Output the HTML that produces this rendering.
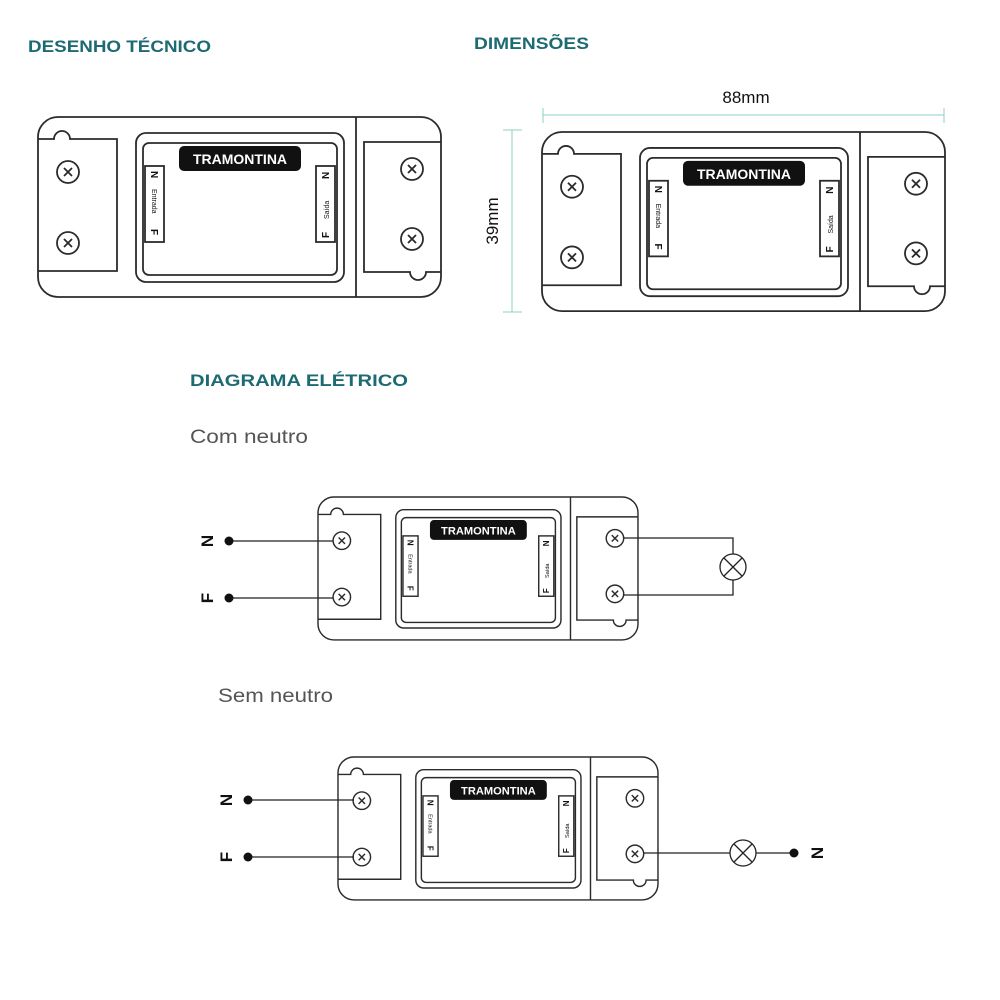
<!DOCTYPE html>
<html><head><meta charset="utf-8"><style>
html,body{margin:0;padding:0;background:#fff;}
svg{display:block}
.o{fill:none;stroke:#2b2b2b;stroke-width:1.8}
.h{font-family:"Liberation Sans",sans-serif;font-weight:bold;fill:#1e6a73;font-size:17px}
.s{font-family:"Liberation Sans",sans-serif;fill:#555;font-size:19px}
.lb{font-family:"Liberation Sans",sans-serif;font-weight:bold;fill:#fff;font-size:14px}
.sn{font-family:"Liberation Sans",sans-serif;font-weight:bold;fill:#111;font-size:10px}
.st{font-family:"Liberation Sans",sans-serif;fill:#111;font-size:7px}
.w{stroke:#222;stroke-width:1.3;fill:none}
.big{font-family:"Liberation Sans",sans-serif;fill:#111;font-size:17px}
</style></head><body>
<svg width="1000" height="1000" viewBox="0 0 1000 1000" xmlns="http://www.w3.org/2000/svg">
<rect width="1000" height="1000" fill="#fff"/>
<text class="h" x="28" y="52" textLength="183" lengthAdjust="spacingAndGlyphs">DESENHO TÉCNICO</text>
<text class="h" x="474" y="49" textLength="115" lengthAdjust="spacingAndGlyphs">DIMENSÕES</text>
<text class="h" x="190" y="386" textLength="218" lengthAdjust="spacingAndGlyphs">DIAGRAMA ELÉTRICO</text>
<text class="s" x="190" y="443" textLength="118" lengthAdjust="spacingAndGlyphs">Com neutro</text>
<text class="s" x="218" y="702" textLength="115" lengthAdjust="spacingAndGlyphs">Sem neutro</text>

<!-- dimensions -->
<g stroke="#8ccfc6" stroke-width="1" fill="none">
<line x1="543" y1="115" x2="944" y2="115"/><line x1="543" y1="108" x2="543" y2="123"/><line x1="944" y1="108" x2="944" y2="123"/>
<line x1="512" y1="130" x2="512" y2="312"/><line x1="503" y1="130" x2="522" y2="130"/><line x1="503" y1="312" x2="522" y2="312"/>
</g>
<text class="big" x="746" y="103" text-anchor="middle">88mm</text>
<text class="big" x="0" y="0" text-anchor="middle" transform="translate(498,221) rotate(-90)">39mm</text>

<!-- device 1 -->
<g transform="translate(38,117)">
<rect class="o" x="0" y="0" width="403" height="180" rx="20"/>
<line class="o" x1="318" y1="0" x2="318" y2="180"/>
<path class="o" d="M0,22 H16 a8,8 0 0 1 16,0 H79 V154 H0"/>
<path class="o" d="M403,25 H326 V155 H372 a8,8 0 0 0 16,0 H403"/>
<g class="o"><circle cx="30" cy="55" r="11"/><circle cx="30" cy="126" r="11"/><circle cx="374" cy="52" r="11"/><circle cx="374" cy="122" r="11"/>
<path d="M26,51 l8,8 M34,51 l-8,8 M26,122 l8,8 M34,122 l-8,8 M370,48 l8,8 M378,48 l-8,8 M370,118 l8,8 M378,118 l-8,8"/></g>
<rect class="o" x="98" y="16" width="208" height="149" rx="10"/>
<rect class="o" x="105" y="26" width="194" height="132" rx="6"/>
<rect x="141" y="29" width="122" height="25" rx="5" fill="#111"/>
<text class="lb" x="202" y="47" text-anchor="middle">TRAMONTINA</text>
<rect class="o" x="107" y="49" width="19" height="76"/><rect class="o" x="278" y="49" width="19" height="76"/>
<text class="sn" transform="translate(113,54) rotate(90)">N</text>
<text class="st" transform="translate(114,72) rotate(90)">Entrada</text>
<text class="sn" transform="translate(113,112) rotate(90)">F</text>
<text class="sn" transform="translate(291,62) rotate(-90)">N</text>
<text class="st" transform="translate(291,102) rotate(-90)">Saída</text>
<text class="sn" transform="translate(291,121) rotate(-90)">F</text>
</g>

<!-- device 2 -->
<g transform="translate(542,132) scale(1,0.995)">
<rect class="o" x="0" y="0" width="403" height="180" rx="20"/>
<line class="o" x1="318" y1="0" x2="318" y2="180"/>
<path class="o" d="M0,22 H16 a8,8 0 0 1 16,0 H79 V154 H0"/>
<path class="o" d="M403,25 H326 V155 H372 a8,8 0 0 0 16,0 H403"/>
<g class="o"><circle cx="30" cy="55" r="11"/><circle cx="30" cy="126" r="11"/><circle cx="374" cy="52" r="11"/><circle cx="374" cy="122" r="11"/>
<path d="M26,51 l8,8 M34,51 l-8,8 M26,122 l8,8 M34,122 l-8,8 M370,48 l8,8 M378,48 l-8,8 M370,118 l8,8 M378,118 l-8,8"/></g>
<rect class="o" x="98" y="16" width="208" height="149" rx="10"/>
<rect class="o" x="105" y="26" width="194" height="132" rx="6"/>
<rect x="141" y="29" width="122" height="25" rx="5" fill="#111"/>
<text class="lb" x="202" y="47" text-anchor="middle">TRAMONTINA</text>
<rect class="o" x="107" y="49" width="19" height="76"/><rect class="o" x="278" y="49" width="19" height="76"/>
<text class="sn" transform="translate(113,54) rotate(90)">N</text>
<text class="st" transform="translate(114,72) rotate(90)">Entrada</text>
<text class="sn" transform="translate(113,112) rotate(90)">F</text>
<text class="sn" transform="translate(291,62) rotate(-90)">N</text>
<text class="st" transform="translate(291,102) rotate(-90)">Saída</text>
<text class="sn" transform="translate(291,121) rotate(-90)">F</text>
</g>

<!-- device 3 -->
<g transform="translate(318,497) scale(0.794)">
<rect class="o" x="0" y="0" width="403" height="180" rx="20"/>
<line class="o" x1="318" y1="0" x2="318" y2="180"/>
<path class="o" d="M0,22 H16 a8,8 0 0 1 16,0 H79 V154 H0"/>
<path class="o" d="M403,25 H326 V155 H372 a8,8 0 0 0 16,0 H403"/>
<g class="o"><circle cx="30" cy="55" r="11"/><circle cx="30" cy="126" r="11"/><circle cx="374" cy="52" r="11"/><circle cx="374" cy="122" r="11"/>
<path d="M26,51 l8,8 M34,51 l-8,8 M26,122 l8,8 M34,122 l-8,8 M370,48 l8,8 M378,48 l-8,8 M370,118 l8,8 M378,118 l-8,8"/></g>
<rect class="o" x="98" y="16" width="208" height="149" rx="10"/>
<rect class="o" x="105" y="26" width="194" height="132" rx="6"/>
<rect x="141" y="29" width="122" height="25" rx="5" fill="#111"/>
<text class="lb" x="202" y="47" text-anchor="middle">TRAMONTINA</text>
<rect class="o" x="107" y="49" width="19" height="76"/><rect class="o" x="278" y="49" width="19" height="76"/>
<text class="sn" transform="translate(113,54) rotate(90)">N</text>
<text class="st" transform="translate(114,72) rotate(90)">Entrada</text>
<text class="sn" transform="translate(113,112) rotate(90)">F</text>
<text class="sn" transform="translate(291,62) rotate(-90)">N</text>
<text class="st" transform="translate(291,102) rotate(-90)">Saída</text>
<text class="sn" transform="translate(291,121) rotate(-90)">F</text>
</g>

<!-- device 4 -->
<g transform="translate(338,757) scale(0.794)">
<rect class="o" x="0" y="0" width="403" height="180" rx="20"/>
<line class="o" x1="318" y1="0" x2="318" y2="180"/>
<path class="o" d="M0,22 H16 a8,8 0 0 1 16,0 H79 V154 H0"/>
<path class="o" d="M403,25 H326 V155 H372 a8,8 0 0 0 16,0 H403"/>
<g class="o"><circle cx="30" cy="55" r="11"/><circle cx="30" cy="126" r="11"/><circle cx="374" cy="52" r="11"/><circle cx="374" cy="122" r="11"/>
<path d="M26,51 l8,8 M34,51 l-8,8 M26,122 l8,8 M34,122 l-8,8 M370,48 l8,8 M378,48 l-8,8 M370,118 l8,8 M378,118 l-8,8"/></g>
<rect class="o" x="98" y="16" width="208" height="149" rx="10"/>
<rect class="o" x="105" y="26" width="194" height="132" rx="6"/>
<rect x="141" y="29" width="122" height="25" rx="5" fill="#111"/>
<text class="lb" x="202" y="47" text-anchor="middle">TRAMONTINA</text>
<rect class="o" x="107" y="49" width="19" height="76"/><rect class="o" x="278" y="49" width="19" height="76"/>
<text class="sn" transform="translate(113,54) rotate(90)">N</text>
<text class="st" transform="translate(114,72) rotate(90)">Entrada</text>
<text class="sn" transform="translate(113,112) rotate(90)">F</text>
<text class="sn" transform="translate(291,62) rotate(-90)">N</text>
<text class="st" transform="translate(291,102) rotate(-90)">Saída</text>
<text class="sn" transform="translate(291,121) rotate(-90)">F</text>
</g>

<!-- wiring diagram 3 -->
<g class="w">
<line x1="229" y1="541" x2="333" y2="541"/><line x1="229" y1="598" x2="333" y2="598"/>
<path d="M624,538 H733 V554 M624,595 H733 V580"/>
<circle cx="733" cy="567" r="13"/>
<path d="M724,558 l18,18 M742,558 l-18,18"/>
</g>
<circle cx="229" cy="541" r="4.5" fill="#111"/><circle cx="229" cy="598" r="4.5" fill="#111"/>
<text class="big" transform="translate(213,541) rotate(-90)" text-anchor="middle" font-weight="bold" font-size="18">N</text>
<text class="big" transform="translate(213,598) rotate(-90)" text-anchor="middle" font-weight="bold" font-size="18">F</text>

<!-- wiring diagram 4 -->
<g class="w">
<line x1="248" y1="800" x2="354" y2="800"/><line x1="248" y1="857" x2="354" y2="857"/>
<line x1="643" y1="853" x2="730" y2="853"/><line x1="756" y1="853" x2="794" y2="853"/>
<circle cx="743" cy="853" r="13"/>
<path d="M734,844 l18,18 M752,844 l-18,18"/>
</g>
<circle cx="248" cy="800" r="4.5" fill="#111"/><circle cx="248" cy="857" r="4.5" fill="#111"/><circle cx="794" cy="853" r="4.5" fill="#111"/>
<text class="big" transform="translate(232,800) rotate(-90)" text-anchor="middle" font-weight="bold" font-size="18">N</text>
<text class="big" transform="translate(232,857) rotate(-90)" text-anchor="middle" font-weight="bold" font-size="18">F</text>
<text class="big" transform="translate(823,853) rotate(-90)" text-anchor="middle" font-weight="bold" font-size="18">N</text>
</svg>
</body></html>
